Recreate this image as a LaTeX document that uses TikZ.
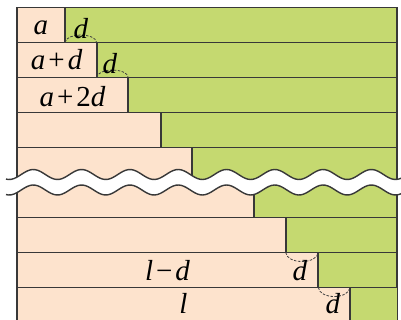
\documentclass[tikz,border=0pt]{standalone}
\usepackage{fontspec}
\setmainfont{Liberation Serif}
\definecolor{peach}{RGB}{253,227,205}
\definecolor{leaf}{RGB}{197,217,112}
\newcommand{\vi}[1]{\textit{#1}}
\begin{document}
\begin{tikzpicture}[x=1pt,y=-1pt,line width=1.7pt,
  bar/.style={draw=black!78},
  lbl/.style={anchor=base,inner sep=0pt,font=\fontsize{29}{32}\selectfont},
  gap/.style={draw=black!75,line width=.8pt,dash pattern=on 2.5pt off 1.5pt}]
\useasboundingbox(0,0)rectangle(401,320);\clip(0,0)rectangle(401,320);
% the bars, top to bottom
\filldraw[bar,fill=peach](16.7,7.5)rectangle(65,42.5);\filldraw[bar,fill=leaf](65,7.5)rectangle(396.7,42.5);
\filldraw[bar,fill=peach](16.7,42.5)rectangle(96.7,77.5);\filldraw[bar,fill=leaf](96.7,42.5)rectangle(396.7,77.5);
\filldraw[bar,fill=peach](16.7,77.5)rectangle(128.3,112.5);\filldraw[bar,fill=leaf](128.3,77.5)rectangle(396.7,112.5);
\filldraw[bar,fill=peach](16.7,112.5)rectangle(161,147.5);\filldraw[bar,fill=leaf](161,112.5)rectangle(396.7,147.5);
\filldraw[bar,fill=peach](16.7,147.5)rectangle(191.7,182.5);\filldraw[bar,fill=leaf](191.7,147.5)rectangle(396.7,182.5);
\filldraw[bar,fill=peach](16.7,182.5)rectangle(254.3,217.5);\filldraw[bar,fill=leaf](254.3,182.5)rectangle(396.7,217.5);
\filldraw[bar,fill=peach](16.7,217.5)rectangle(285.7,252.5);\filldraw[bar,fill=leaf](285.7,217.5)rectangle(396.7,252.5);
\filldraw[bar,fill=peach](16.7,252.5)rectangle(318.3,287.5);\filldraw[bar,fill=leaf](318.3,252.5)rectangle(396.7,287.5);
\filldraw[bar,fill=peach](16.7,287.5)rectangle(350,330);\filldraw[bar,fill=leaf](350,287.5)rectangle(397.5,330);
% corners where the steps meet
\coordinate(c1)at(65,42.5);\coordinate(c2)at(96.7,42.5);\coordinate(c3)at(96.7,77.5);\coordinate(c4)at(128.3,77.5);
\coordinate(c7)at(285.7,252.5);\coordinate(c8)at(318.3,252.5);\coordinate(c9)at(318.3,287.5);\coordinate(c10)at(350,287.5);
\draw[gap](c1)..controls+(1.5,-10)and+(-1.5,-10)..(c2);\draw[gap](c3)..controls+(1.5,-10)and+(-1.5,-10)..(c4);
\draw[gap](c7)..controls+(1.5,12)and+(-1.5,12)..(c8);\draw[gap](c9)..controls+(1.5,12)and+(-1.5,12)..(c10);
% labels
\node[lbl](ta)at(40.8,35){\vi{a}};\node[lbl](tad)at(56.7,70){\vi{a}\kern3pt+\kern3pt\vi{d}};
\node[lbl](ta2d)at(72.5,106.5){\vi{a}\kern3pt+\kern3pt2\vi{d}};
\node[lbl](tld)at(167.5,280){\vi{l}\kern3pt−\kern3pt\vi{d}};\node[lbl](tl)at(183.3,313){\vi{l}};
\node[lbl](d1)at(81,39){\vi{d}};\node[lbl](d2)at(110,73.5){\vi{d}};
\node[lbl](d3)at(300,280){\vi{d}};\node[lbl](d4)at(333,313){\vi{d}};
% break
\fill[white]plot[domain=6:402,samples=150](\x,{174.5-5*cos(7.4534*(\x-33.3))})--plot[domain=402:6,samples=150](\x,{190-5*cos(7.4534*(\x-33.3))})--cycle;
\draw[bar,line width=1.4pt]plot[domain=6:402,samples=150](\x,{174.5-5*cos(7.4534*(\x-33.3))});
\draw[bar,line width=1.4pt]plot[domain=6:402,samples=150](\x,{190-5*cos(7.4534*(\x-33.3))});
\end{tikzpicture}
\end{document}
